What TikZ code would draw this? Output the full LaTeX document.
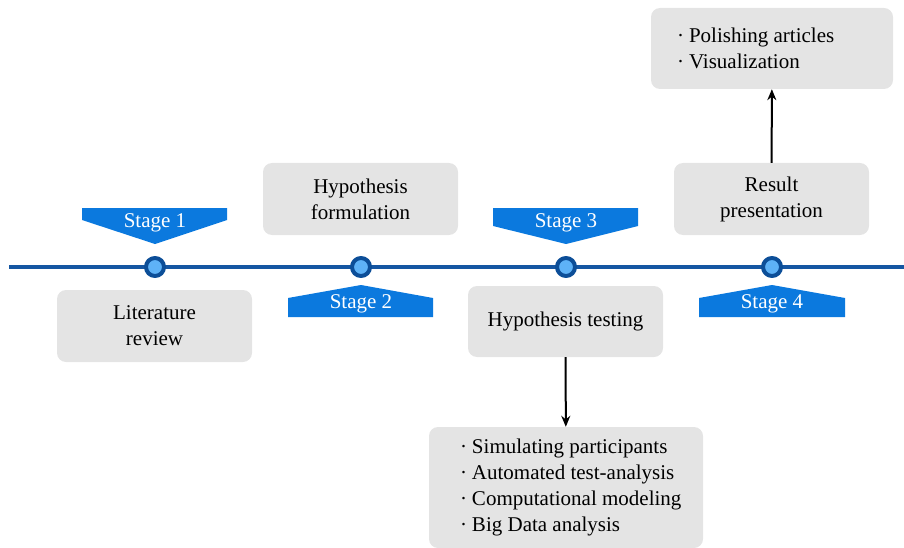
\documentclass[tikz,border=0pt]{standalone}
\usepackage{fontspec}
\setmainfont{LiberationSerif}[Extension=.ttf,UprightFont=*-Regular,BoldFont=*-Bold]
\usetikzlibrary{arrows.meta}
\definecolor{lineblue}{HTML}{1556A2}
\definecolor{ringblue}{HTML}{0C4E98}
\definecolor{dotblue}{HTML}{5EB2F7}
\definecolor{tagblue}{HTML}{0B79DE}
\definecolor{boxgray}{HTML}{E4E4E4}
\begin{document}
\begin{tikzpicture}[x=1pt,y=-1pt,>={Stealth[length=11pt,width=9pt]},line join=round,
	font=\rmfamily\fontsize{21}{26}\selectfont,
	box/.style={fill=boxgray,rounded corners=9pt,inner sep=0pt,align=center},
	dot/.style={circle,draw=ringblue,fill=dotblue,line width=4pt,minimum size=18pt,inner sep=0pt},
	tag/.style={text=white,inner sep=0pt},
	list/.style={anchor=west,align=left,inner sep=0pt}]
	\useasboundingbox (0,0) rectangle (904,548);
	% timeline
	\coordinate (start) at (9,267);
	\coordinate (end) at (904,267);
	\draw[lineblue,line width=4pt] (start)--(end);
	\node[dot] (s1) at (155,267) {};
	\node[dot] (s2) at (361,267) {};
	\node[dot] (s3) at (566,267) {};
	\node[dot] (s4) at (772,267) {};
	% stage tags
	\fill[tagblue] (82,208)--(227,208)--(227,220)--(155,244)--(82,220)--cycle;
	\fill[tagblue] (288,317)--(288,298)--(361,285)--(433,298)--(433,317)--cycle;
	\fill[tagblue] (493,208)--(638,208)--(638,226)--(566,244)--(493,226)--cycle;
	\fill[tagblue] (699,317)--(699,298)--(772,285)--(845,298)--(845,317)--cycle;
	\node[tag] (t1) at (155,223) {Stage 1};
	\node[tag] (t2) at (361,304) {Stage 2};
	\node[tag] (t3) at (566,223) {Stage 3};
	\node[tag] (t4) at (772,304) {Stage 4};
	% boxes
	\node[box,minimum width=195pt,minimum height=72pt] (lit) at (154.5,326) {Literature\\review};
	\node[box,minimum width=195pt,minimum height=72pt] (form) at (360.5,199) {Hypothesis\\formulation};
	\node[box,minimum width=195pt,minimum height=71pt] (test) at (565.5,321.5) {Hypothesis testing};
	\node[box,minimum width=195pt,minimum height=72pt] (result) at (771.5,199) {Result\\presentation};
	\node[box,minimum width=242pt,minimum height=81pt] (tools) at (772,48.5) {};
	\node[box,minimum width=274pt,minimum height=121pt] (methods) at (566,487.5) {};
	\node[list] (toolsTxt) at ([xshift=26pt]tools.west) {·\hspace{5pt}Polishing articles\\·\hspace{5pt}Visualization};
	\node[list] (methodsTxt) at ([xshift=31pt]methods.west) {·\hspace{5pt}Simulating participants\\·\hspace{5pt}Automated test-analysis\\·\hspace{5pt}Computational modeling\\·\hspace{5pt}Big Data analysis};
	% arrows
	\draw[->,line width=2pt] (test)--(methods);
	\draw[->,line width=2pt] (result)--(tools);
\end{tikzpicture}
\end{document}
